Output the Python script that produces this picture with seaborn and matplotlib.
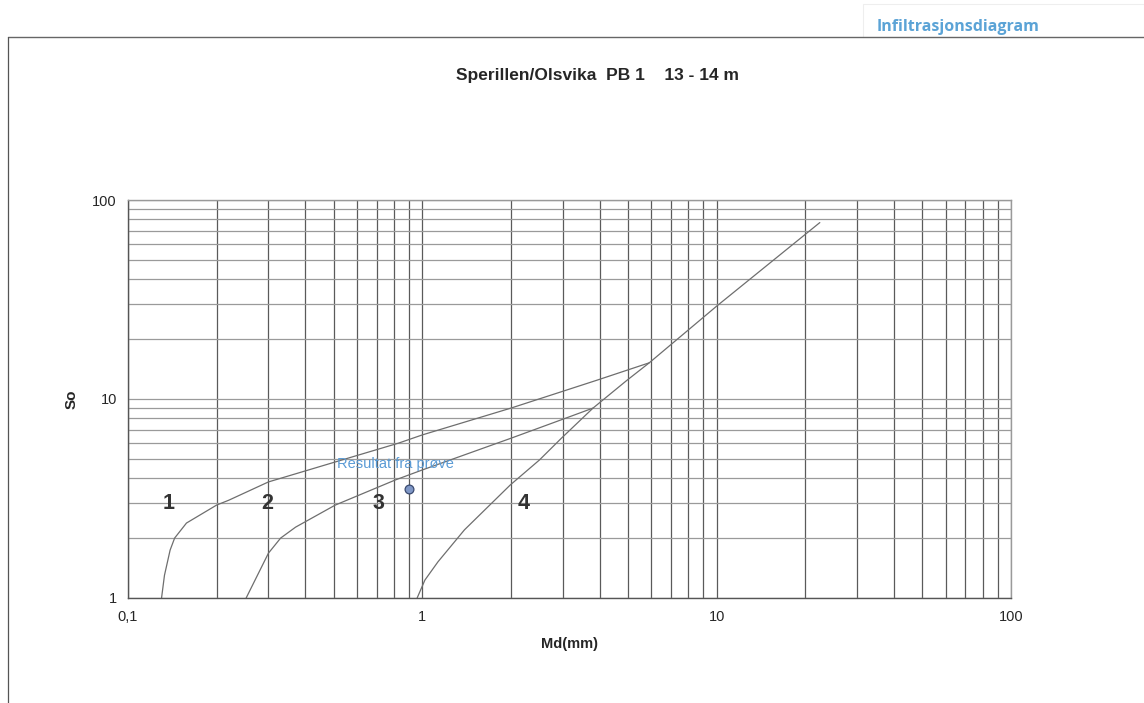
import numpy as np
import pandas as pd
import matplotlib.pyplot as plt
import seaborn as sns
from matplotlib.ticker import LogLocator, FixedLocator, NullFormatter

# ---- data ----
curve1_md = [0.130, 0.133, 0.139, 0.144, 0.158, 0.20, 0.22, 0.30, 0.50, 0.83, 1.0, 2.0, 3.9, 5.9]
curve1_so = [1.0, 1.3, 1.74, 2.0, 2.38, 2.93, 3.1, 3.83, 4.8, 6.0, 6.6, 9.0, 12.4, 15.2]

curve2_md = [0.252, 0.30, 0.33, 0.371, 0.506, 0.81, 1.0, 2.0, 3.02, 3.8]
curve2_so = [1.0, 1.68, 2.0, 2.27, 2.93, 3.92, 4.4, 6.35, 7.94, 9.0]

curve4_md = [0.96, 1.02, 1.13, 1.39, 1.99, 2.5, 2.97, 3.8, 4.95, 5.9, 10.0, 22.4]
curve4_so = [1.0, 1.23, 1.52, 2.2, 3.7, 4.94, 6.36, 9.0, 12.4, 15.2, 29.3, 77.0]

zone_labels = ["1", "2", "3", "4"]
zone_md = [0.137, 0.297, 0.71, 2.2]
zone_so = [3.0, 3.0, 3.0, 3.0]

sample_md = [0.90]
sample_so = [3.53]

x_ticks = [0.1, 1, 10, 100]
x_ticklabels = ["0,1", "1", "10", "100"]
y_ticks = [1, 10, 100]
y_ticklabels = ["1", "10", "100"]

# ---- build long table ----
frames = []
for name, md, so in [("1", curve1_md, curve1_so), ("2", curve2_md, curve2_so), ("4", curve4_md, curve4_so)]:
    frames.append(pd.DataFrame({"Md": md, "So": so, "kurve": name}))
curves = pd.concat(frames, ignore_index=True)

sns.set_style("white")
plt.rcParams["font.family"] = ["Liberation Sans", "DejaVu Sans"]

fig = plt.figure(figsize=(11.44, 7.03), dpi=100)
ax = fig.add_axes([0.1119, 0.1494, 0.7719, 0.5661])

ax.set_xscale("log")
ax.set_yscale("log")
ax.set_xlim(0.1, 100)
ax.set_ylim(1, 100)

# grid
ax.xaxis.set_major_locator(FixedLocator(x_ticks))
ax.xaxis.set_minor_locator(LogLocator(base=10, subs=np.arange(2, 10)))
ax.xaxis.set_minor_formatter(NullFormatter())
ax.yaxis.set_major_locator(FixedLocator(y_ticks))
ax.yaxis.set_minor_locator(LogLocator(base=10, subs=np.arange(2, 10)))
ax.yaxis.set_minor_formatter(NullFormatter())
ax.grid(True, axis="x", which="both", color="#5a5a5a", lw=0.9)
ax.grid(True, axis="y", which="both", color="#9a9a9a", lw=0.9)
ax.set_axisbelow(True)

sns.lineplot(data=curves, x="Md", y="So", hue="kurve", units="kurve", estimator=None,
             sort=False, palette=["#6e6e6e"] * 3, lw=0.9, legend=False, ax=ax)

sns.scatterplot(x=sample_md, y=sample_so, s=40, color="#7f97c6", edgecolor="#3a4a70",
                linewidth=0.9, ax=ax, zorder=5)
ax.text(sample_md[0] * 0.9, sample_so[0] * 1.335, "Resultat fra prøve", color="#5b9bd5",
        fontsize=10.5, ha="center", va="center")

for lab, mx, sy in zip(zone_labels, zone_md, zone_so):
    ax.text(mx, sy, lab, fontsize=15.5, fontweight="bold", color="#333333",
            ha="center", va="center")

ax.set_xticks(x_ticks)
ax.set_xticklabels(x_ticklabels)
ax.set_yticks(y_ticks)
ax.set_yticklabels(y_ticklabels)
ax.tick_params(axis="both", which="major", labelsize=10.5, length=4, color="#555555",
               direction="out", pad=5)
ax.tick_params(axis="both", which="minor", length=0)
ax.tick_params(axis="y", which="major", length=4, pad=4)

ax.set_xlabel("Md(mm)", fontsize=10.5, fontweight="bold", labelpad=9)
ax.set_ylabel("So", fontsize=11, fontweight="bold", labelpad=10)

for side in ["top", "right"]:
    ax.spines[side].set_color("#9a9a9a")
for side in ["left", "bottom"]:
    ax.spines[side].set_color("#555555")
for sp in ax.spines.values():
    sp.set_linewidth(1.0)

fig.text(0.522, 0.893, "Sperillen/Olsvika  PB 1    13 - 14 m", fontsize=12.5,
         fontweight="bold", ha="center", va="center")

# page frame and header
fig.add_artist(plt.Line2D([0.007, 1.0], [0.947, 0.947], color="#666666", lw=1.0))
fig.add_artist(plt.Line2D([0.007, 0.007], [0.0, 0.947], color="#555555", lw=0.9))
fig.add_artist(plt.Rectangle((0.754, 0.948), 0.246, 0.046, facecolor="white",
                             edgecolor="#eeeeee", lw=0.8))
fig.text(0.766, 0.962, "Infiltrasjonsdiagram", fontsize=11.5, fontweight="bold",
         color="#5ba3d6", ha="left", va="center", family=["Open Sans", "DejaVu Sans"])

fig.savefig("out.png", dpi=100)
